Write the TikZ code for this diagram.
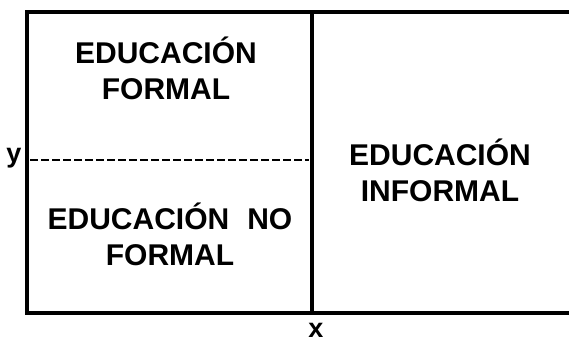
\documentclass[tikz,border=0pt]{standalone}
\usepackage{fontspec}
\setmainfont{Liberation Sans}
\begin{document}
\begin{tikzpicture}[x=1pt,y=-1pt,
  frame/.style={line width=3.5pt},
  sep/.style={line width=2.5pt, dash pattern=on 8pt off 3pt},
  lbl/.style={align=center, inner sep=0pt, font=\fontsize{30}{36}\selectfont\bfseries},
  axis/.style={inner sep=0pt, font=\fontsize{27}{30}\selectfont\bfseries}]
\useasboundingbox (0,0) rectangle (569,344);
\coordinate (tl) at (27,12);
\coordinate (tr) at (569,12);
\coordinate (bl) at (27,313);
\coordinate (br) at (569,313);
\coordinate (mt) at (312,12);
\coordinate (mb) at (312,313);
\coordinate (dl) at (30,160);
\coordinate (dr) at (309,160);
\draw[frame] (tr) -- (tl) -- (bl) -- (br);
\draw[frame] (mt) -- (mb);
\draw[sep] (dl) -- (dr);
\node[lbl] (formal) at (166,68) {EDUCACIÓN\\FORMAL};
\node[lbl] (noformal) at (170,234) {EDUCACIÓN\hspace{0.6em}NO\\FORMAL};
\node[lbl] (informal) at (440,170) {EDUCACIÓN\\INFORMAL};
\node[axis, anchor=base] (ylab) at (14,163) {y};
\node[axis, anchor=base] (xlab) at (316,337) {x};
\end{tikzpicture}
\end{document}
